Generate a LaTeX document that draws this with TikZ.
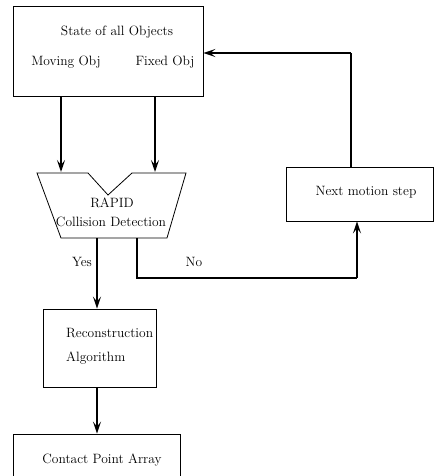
\documentclass[tikz,border=0pt]{standalone}
\usetikzlibrary{arrows.meta}
\begin{document}
\begin{tikzpicture}[x=1pt,y=-1pt,
  box/.style={draw,line width=0.8pt,inner sep=0pt},
  lbl/.style={inner sep=0pt,font=\fontsize{13.5}{15}\selectfont},
  arr/.style={line width=1.6pt,-{Stealth[length=12pt,width=8pt,inset=5pt]}},
  flow/.style={line width=1.6pt}]
\useasboundingbox (0,0) rectangle (434,476);
% boxes
\node[box,minimum width=190pt,minimum height=90pt] (top) at (108,51) {};
\node[box,minimum width=147.5pt,minimum height=54pt] (next) at (359.75,194) {};
\node[box,minimum width=113pt,minimum height=78pt] (rec) at (99.5,348) {};
\node[box,minimum width=167pt,minimum height=60pt] (cpa) at (96.5,464) {};
% trapezoid
\coordinate (tA) at (37,173);
\coordinate (tB) at (88,173);
\coordinate (tC) at (108,195);
\coordinate (tD) at (132,173);
\coordinate (tE) at (186,173);
\coordinate (tF) at (167,238);
\coordinate (tG) at (61,238);
\draw[line width=0.8pt] (tA) -- (tB) -- (tC) -- (tD) -- (tE) -- (tF) -- (tG) -- cycle;
% texts
\node[lbl] (st) at (117,32) {State of all Objects};
\node[lbl] (mv) at (66,62) {Moving Obj};
\node[lbl] (fx) at (165,62) {Fixed Obj};
\node[lbl] (rp) at (112,203) {RAPID};
\node[lbl] (cd) at (111,222) {Collision Detection};
\node[lbl] (nm) at (366,192) {Next motion step};
\node[lbl,anchor=west] (rc) at (66,333) {Reconstruction};
\node[lbl,anchor=west] (al) at (66,358) {Algorithm};
\node[lbl] (ca) at (102,460) {Contact Point Array};
\node[lbl] (yes) at (82,262) {Yes};
\node[lbl] (no) at (194,262) {No};
% connectors
\coordinate (m1) at (61,172);
\coordinate (f1) at (155,172);
\draw[arr] (top.south -| m1) -- (m1);
\draw[arr] (top.south -| f1) -- (f1);
\coordinate (y0) at (97,238);
\draw[arr] (y0) -- (rec.north -| y0);
\coordinate (n0) at (137,238);
\coordinate (n1) at (137,278);
\coordinate (n2) at (357,278);
\draw[flow] (n0) -- (n1) -- (n2);
\draw[arr] (n2) -- (next.south -| n2);
\coordinate (b0) at (351,53);
\draw[flow] (next.north -| b0) -- (b0);
\draw[arr] (b0) -- (top.east |- b0);
\draw[arr] (rec.south -| y0) -- (cpa.north -| y0);
\end{tikzpicture}
\end{document}
